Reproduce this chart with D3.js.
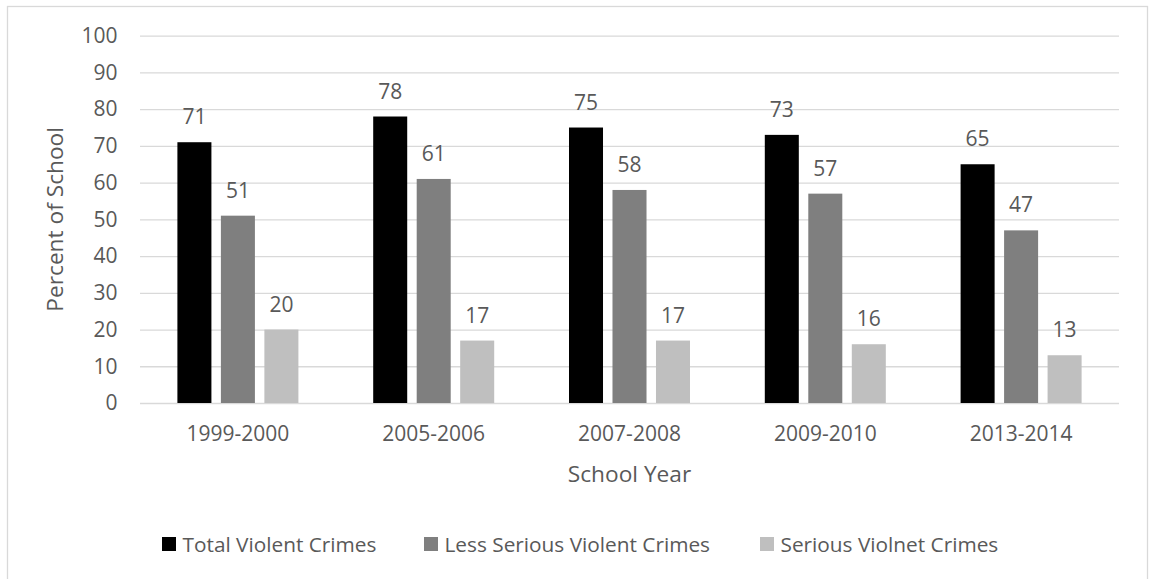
<!DOCTYPE html>
<html>
<head>
<meta charset="utf-8">
<script src="https://cdn.jsdelivr.net/npm/d3@7"></script>
<style>
  html, body { margin: 0; padding: 0; background: #fff; }
  svg { display: block; font-family: "Open Sans", sans-serif; }
</style>
</head>
<body>
<svg id="chart" width="1149" height="579"></svg>
<script>
const categories = ["1999-2000", "2005-2006", "2007-2008", "2009-2010", "2013-2014"];
const seriesNames = ["Total Violent Crimes", "Less Serious Violent Crimes", "Serious Violnet Crimes"];
const totalViolent = [71, 78, 75, 73, 65];
const lessSerious = [51, 61, 58, 57, 47];
const seriousViolent = [20, 17, 17, 16, 13];
const yTicks = [0, 10, 20, 30, 40, 50, 60, 70, 80, 90, 100];
const colors = ["#000000", "#7f7f7f", "#bfbfbf"];

const seriesValues = [totalViolent, lessSerious, seriousViolent];
const svg = d3.select("#chart");
const textColor = "#595959";
const gridColor = "#d9d9d9";

// outer border
svg.append("rect").attr("x", 7.5).attr("y", 6.5).attr("width", 1140).attr("height", 600)
  .attr("fill", "none").attr("stroke", gridColor).attr("stroke-width", 1.3);

const plot = { left: 140, right: 1119, top: 35.7, bottom: 403 };
const y = d3.scaleLinear().domain([0, 100]).range([plot.bottom, plot.top]);
const x0 = d3.scaleBand().domain(categories).range([plot.left, plot.right]).paddingInner(0).paddingOuter(0);
const groupW = 121;
const x1 = d3.scaleBand().domain(seriesNames)
  .range([(x0.bandwidth() - groupW) / 2, (x0.bandwidth() + groupW) / 2])
  .paddingInner(0.218).paddingOuter(0);

// gridlines
const yAxis = d3.axisLeft(y).tickValues(yTicks).tickSize(-(plot.right - plot.left)).tickPadding(22.5).tickFormat(d3.format("d"));
const gy = svg.append("g").attr("transform", `translate(${plot.left},0)`).call(yAxis);
gy.select(".domain").remove();
gy.selectAll(".tick line").attr("stroke", gridColor).attr("stroke-width", 1.3);
gy.selectAll(".tick text").attr("fill", textColor).attr("font-size", 21).attr("font-family", "Open Sans");

// bars
const groups = svg.append("g").selectAll("g").data(categories).join("g")
  .attr("transform", d => `translate(${x0(d)},0)`);
seriesNames.forEach((s, si) => {
  groups.append("rect")
    .attr("x", x1(s))
    .attr("width", x1.bandwidth())
    .attr("y", (d, i) => y(seriesValues[si][i]))
    .attr("height", (d, i) => y(0) - y(seriesValues[si][i]))
    .attr("fill", colors[si]);
  groups.append("text")
    .attr("x", x1(s) + x1.bandwidth() / 2)
    .attr("y", (d, i) => y(seriesValues[si][i]) - 18)
    .attr("text-anchor", "middle")
    .attr("font-size", 21)
    .attr("fill", textColor)
    .text((d, i) => seriesValues[si][i]);
});

// x axis labels
const xAxis = d3.axisBottom(x0).tickSize(0).tickPadding(0);
const gx = svg.append("g").attr("transform", `translate(0,${plot.bottom})`).call(xAxis);
gx.select(".domain").remove();
gx.selectAll(".tick text").attr("fill", textColor).attr("font-size", 21).attr("font-family", "Open Sans")
  .attr("dy", null).attr("y", 38);

// axis titles
svg.append("text").attr("x", (plot.left + plot.right) / 2).attr("y", 481.5)
  .attr("text-anchor", "middle").attr("font-size", 22.7).attr("fill", textColor).text("School Year");
svg.append("text").attr("transform", `translate(63,${(plot.top + plot.bottom) / 2}) rotate(-90)`)
  .attr("text-anchor", "middle").attr("font-size", 22.7).attr("fill", textColor).text("Percent of School");

// legend
const legendX = [162, 424, 760];
const lg = svg.append("g").selectAll("g").data(seriesNames).join("g")
  .attr("transform", (d, i) => `translate(${legendX[i]},537)`);
lg.append("rect").attr("width", 14).attr("height", 14).attr("fill", (d, i) => colors[i]);
lg.append("text").attr("x", 20.5).attr("y", 14.8).attr("font-size", 20.8).attr("fill", textColor).text(d => d);
</script>
</body>
</html>
